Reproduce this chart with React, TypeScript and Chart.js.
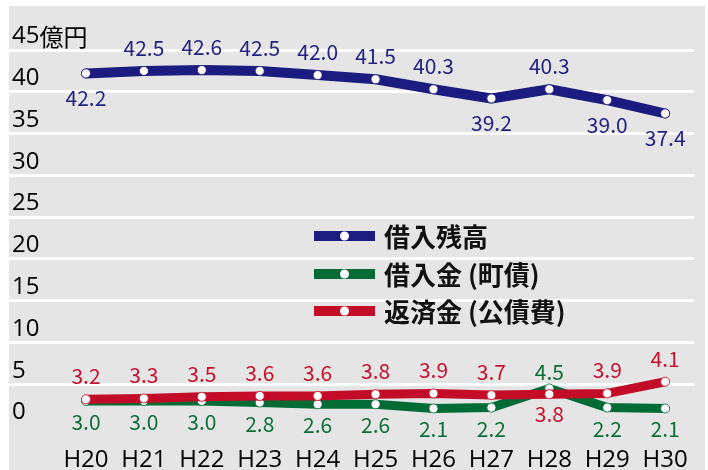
import React, { useEffect, useRef } from 'react';
import { Chart, registerables } from 'chart.js';

Chart.register(...registerables);

const categories = ['H20', 'H21', 'H22', 'H23', 'H24', 'H25', 'H26', 'H27', 'H28', 'H29', 'H30'];
const seriesNames = ['借入残高', '借入金 (町債)', '返済金 (公債費)'];
const balance = [42.2, 42.5, 42.6, 42.5, 42.0, 41.5, 40.3, 39.2, 40.3, 39.0, 37.4];
const borrowing = [3.0, 3.0, 3.0, 2.8, 2.6, 2.6, 2.1, 2.2, 4.5, 2.2, 2.1];
const repayment = [3.2, 3.3, 3.5, 3.6, 3.6, 3.8, 3.9, 3.7, 3.8, 3.9, 5.3];
const balanceLabels = ['42.2', '42.5', '42.6', '42.5', '42.0', '41.5', '40.3', '39.2', '40.3', '39.0', '37.4'];
const borrowingLabels = ['3.0', '3.0', '3.0', '2.8', '2.6', '2.6', '2.1', '2.2', '4.5', '2.2', '2.1'];
const repaymentLabels = ['3.2', '3.3', '3.5', '3.6', '3.6', '3.8', '3.9', '3.7', '3.8', '3.9', '4.1'];
const balanceLabelSide = ['below', 'above', 'above', 'above', 'above', 'above', 'above', 'below', 'above', 'below', 'below'];
const borrowingLabelSide = ['below', 'below', 'below', 'below', 'below', 'below', 'below', 'below', 'above', 'below', 'below'];
const repaymentLabelSide = ['above', 'above', 'above', 'above', 'above', 'above', 'above', 'above', 'below', 'above', 'above'];
const yMax = 45;
const yStep = 5;
const yUnit = '億円';

const BLUE = '#1b1b80';
const GREEN = '#006b35';
const RED = '#c30d28';
const BLUE_TXT = '#222283';
const GREEN_TXT = '#0d6e37';
const RED_TXT = '#c8102e';
const TICK_FONT = '"Open Sans", "Noto Sans CJK JP", sans-serif';
const LABEL_FONT = '"Noto Sans CJK JP", sans-serif';

const labelInfo = [
  { labels: balanceLabels, sides: balanceLabelSide, color: BLUE_TXT, up: 23, down: 25 },
  { labels: borrowingLabels, sides: borrowingLabelSide, color: GREEN_TXT, up: 16, down: 21 },
  { labels: repaymentLabels, sides: repaymentLabelSide, color: RED_TXT, up: 23, down: 20 },
];

const backgroundPlugin = {
  id: 'bgPanel',
  beforeDraw(chart: any) {
    const ctx = chart.ctx;
    ctx.save();
    ctx.fillStyle = '#e5e5e5';
    ctx.fillRect(9, 6, chart.width - 12, chart.height - 6);
    ctx.restore();
  },
};

const unitPlugin = {
  id: 'yUnit',
  afterDraw(chart: any) {
    const yScale = chart.scales.y;
    const ctx = chart.ctx;
    ctx.save();
    ctx.font = '500 24px ' + TICK_FONT;
    const w = ctx.measureText(String(yMax)).width;
    ctx.font = '24px ' + LABEL_FONT;
    ctx.fillStyle = '#000000';
    ctx.textAlign = 'left';
    ctx.textBaseline = 'middle';
    ctx.fillText(yUnit, yScale.left + w, yScale.getPixelForValue(yMax) - 13.5);
    ctx.restore();
  },
};

const dataLabelPlugin = {
  id: 'valueLabels',
  afterDatasetsDraw(chart: any) {
    const ctx = chart.ctx;
    ctx.save();
    ctx.font = '21px ' + LABEL_FONT;
    ctx.textAlign = 'center';
    ctx.textBaseline = 'middle';
    labelInfo.forEach((info, di) => {
      const meta = chart.getDatasetMeta(di);
      ctx.fillStyle = info.color;
      meta.data.forEach((pt: any, i: number) => {
        const dy = info.sides[i] === 'above' ? -info.up : info.down;
        ctx.fillText(info.labels[i], pt.x, pt.y + dy);
      });
    });
    ctx.restore();
  },
};

const legendPlugin = {
  id: 'insideLegend',
  afterDatasetsDraw(chart: any) {
    const ctx = chart.ctx;
    const colors = [BLUE, GREEN, RED];
    const x0 = 314;
    const x1 = 375;
    const rows = [236, 274, 311];
    ctx.save();
    rows.forEach((y, i) => {
      ctx.fillStyle = colors[i];
      ctx.fillRect(x0, y - 5, x1 - x0, 10);
      ctx.fillStyle = '#ffffff';
      ctx.beginPath();
      ctx.arc((x0 + x1) / 2, y, 4.5, 0, Math.PI * 2);
      ctx.fill();
      ctx.fillStyle = '#111111';
      ctx.font = 'bold 26px ' + LABEL_FONT;
      ctx.textAlign = 'left';
      ctx.textBaseline = 'middle';
      ctx.fillText(seriesNames[i], 384, y + 1);
    });
    ctx.restore();
  },
};

function makeDataset(data: number[], color: string, width: number, order: number) {
  return {
    data,
    borderColor: color,
    backgroundColor: color,
    borderWidth: width,
    borderCapStyle: 'round',
    borderJoinStyle: 'round',
    tension: 0,
    pointRadius: 4.5,
    pointBackgroundColor: '#ffffff',
    pointBorderColor: color,
    pointBorderWidth: 0.8,
    order,
  };
}

export default function App() {
  const canvasRef = useRef<HTMLCanvasElement | null>(null);

  useEffect(() => {
    document.body.style.margin = '0';
    const canvas = canvasRef.current;
    if (!canvas) return;
    const chart = new Chart(canvas, {
      type: 'line',
      data: {
        labels: categories,
        datasets: [
          { label: seriesNames[0], ...makeDataset(balance, BLUE, 10, 2) } as any,
          { label: seriesNames[1], ...makeDataset(borrowing, GREEN, 9, 1) } as any,
          { label: seriesNames[2], ...makeDataset(repayment, RED, 9, 0) } as any,
        ],
      },
      options: {
        animation: false,
        responsive: true,
        maintainAspectRatio: false,
        layout: { padding: { top: 50, left: 12, right: 6, bottom: 0 } },
        plugins: {
          legend: { display: false },
          tooltip: { enabled: false },
        },
        scales: {
          x: {
            offset: true,
            grid: { display: false, drawTicks: false },
            border: { display: false },
            ticks: {
              color: '#000000',
              font: { family: TICK_FONT, size: 24, weight: '500' },
              padding: 20,
              maxRotation: 0,
              autoSkip: false,
            },
            afterFit: (scale: any) => {
              scale.height = 44;
            },
          },
          y: {
            min: 0,
            max: yMax,
            border: { display: false },
            grid: {
              color: (c: any) => (c.tick && c.tick.value === 0 ? 'rgba(0,0,0,0)' : '#ffffff'),
              lineWidth: 3,
              drawTicks: true,
              tickLength: 48,
            },
            ticks: {
              stepSize: yStep,
              color: '#000000',
              font: { family: TICK_FONT, size: 24, weight: '500' },
              crossAlign: 'far',
              labelOffset: -13.5,
            },
            afterFit: (scale: any) => {
              scale.width = 45;
            },
          },
        },
      },
      plugins: [backgroundPlugin, dataLabelPlugin, legendPlugin, unitPlugin],
    });
    return () => chart.destroy();
  }, []);

  return (
    <div style={{ position: 'relative', width: 708, height: 470 }}>
      <canvas ref={canvasRef} />
    </div>
  );
}
